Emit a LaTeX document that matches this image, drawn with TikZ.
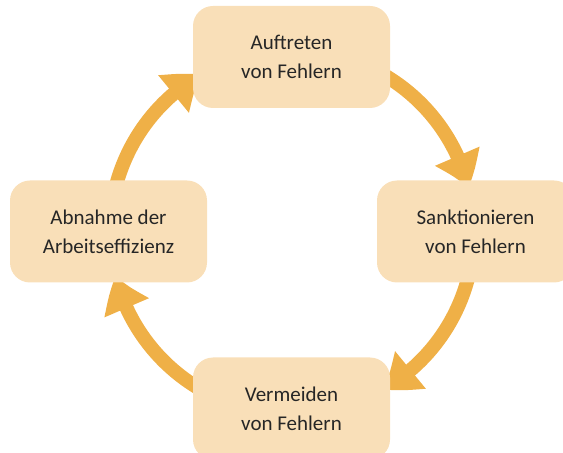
\documentclass[tikz,border=0pt]{standalone}
\usepackage{fontspec}
\setmainfont{Carlito}
\usetikzlibrary{arrows.meta,bending}
\definecolor{boxfill}{HTML}{F9DFB8}
\definecolor{arrowc}{HTML}{EFB047}
\definecolor{txt}{HTML}{262626}
\begin{document}
\begin{tikzpicture}[x=1pt,y=1pt,
  stepbox/.style={rectangle, rounded corners=20pt, fill=boxfill,
    minimum width=197pt, minimum height=102pt, align=center, text=txt,
    font=\fontsize{21}{29}\selectfont, inner sep=0pt},
  cyc/.style={draw=arrowc, line width=14pt,
    -{Triangle[length=34pt,width=46pt,bend]}}]
\useasboundingbox (0,0) rectangle (563,453);
\coordinate (c) at (292,221);
% cycle arrows (behind boxes)
\draw[cyc] ([shift={(170:182)}]c) arc[start angle=170,end angle=120,radius=182];
\draw[cyc] ([shift={(65:182)}]c) arc[start angle=65,end angle=14,radius=182];
\draw[cyc] ([shift={(-10:182)}]c) arc[start angle=-10,end angle=-60,radius=182];
\draw[cyc] ([shift={(245:182)}]c) arc[start angle=245,end angle=194,radius=182];
% boxes
\node[stepbox] (top) at (291.5,396) {Auftreten\\von Fehlern};
\node[stepbox] (right) at (475.5,221.5) {Sanktionieren\\von Fehlern};
\node[stepbox] (bottom) at (291.5,44.5) {Vermeiden\\von Fehlern};
\node[stepbox] (left) at (108.5,221.5) {Abnahme der\\Arbeitseffizienz};
\end{tikzpicture}
\end{document}
